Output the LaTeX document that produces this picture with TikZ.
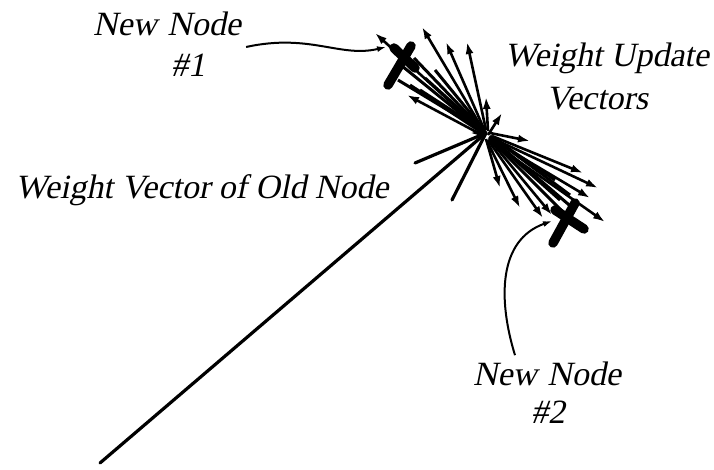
\documentclass[tikz,border=0pt]{standalone}
\usepackage{fontspec}
\newfontfamily\lblfont{Liberation Serif}[FakeSlant=0.2]
\usetikzlibrary{arrows.meta}
\begin{document}
\begin{tikzpicture}[x=1pt,y=-1pt,
  lbl/.style={font=\lblfont\fontsize{34}{38}\selectfont, anchor=base, inner sep=0pt},
  vec/.style={line width=2.6pt, -{Latex[length=12pt,width=8pt]}},
  shaft/.style={line width=3pt},
  stem/.style={line width=3.2pt, line cap=round},
  crossbar/.style={line width=9.5pt, line cap=round},
  note/.style={line width=2pt, -{Latex[length=9pt,width=6pt]}}]
\useasboundingbox (0,0) rectangle (714,470);
% texts
\node[lbl] (n1a) at (167,36) {New\hspace{10pt}Node};
\node[lbl] (n1b) at (188,77) {\#1};
\node[lbl] (wua) at (607,67) {Weight Update};
\node[lbl] (wub) at (597,110) {Vectors};
\node[lbl] (old) at (202,199) {Weight Vector of Old Node};
\node[lbl] (n2a) at (547,385) {New\hspace{10pt}Node};
\node[lbl] (n2b) at (548,423) {\#2};
% centre and old weight vector
\coordinate (C) at (486,133);
\coordinate (O) at (100,463);
\draw[stem] (O) -- (C);
\coordinate (s1) at (415,163);
\coordinate (s2) at (452,200);
\draw[stem] (s1) -- (C);
\draw[stem] (s2) -- (C);
% upper-left update vectors
\foreach \sx/\sy/\tx/\ty in {-6/-4/375/33, -4/-5/422/27, -2/-4/446/42, 0/-3/467/42,
   2/-2/486/97, -4/2/407/95, -2/0/470/133}
  \draw[vec] ([shift={(\sx,\sy)}]C) -- (\tx,\ty);
\foreach \sx/\sy/\tx/\ty in {-4/-2/402/66, -2/-1/398/80, -3/-3/414/58, 0/0/425/78,
   -1/-2/435/70, -2/1/410/85, -1/-1/420/90}
  \draw[shaft] ([shift={(\sx,\sy)}]C) -- (\tx,\ty);
% lower-right update vectors
\foreach \sx/\sy/\tx/\ty in {4/0/530/141, 6/3/583/173, 6/5/598/188, 5/6/590/198, 4/8/605/222,
   3/6/552/215, 2/7/543/218, 1/8/520/208, 0/6/500/188, 2/2/502/113}
  \draw[vec] ([shift={(\sx,\sy)}]C) -- (\tx,\ty);
\foreach \sx/\sy/\tx/\ty in {4/6/566/215, 5/5/575/210, 3/4/560/200, 6/4/570/195, 4/3/555/180}
  \draw[shaft] ([shift={(\sx,\sy)}]C) -- (\tx,\ty);
% new nodes (crosses)
\coordinate (X1) at (402,64);
\draw[crossbar] (388,85) -- (411,46);
\draw[crossbar] (394,48) -- (415,68);
\coordinate (X2) at (566,222);
\draw[crossbar] (553,243) -- (575,203);
\draw[crossbar] (555,210) -- (584,229);
% annotation curves
\coordinate (t1) at (386,47);
\coordinate (t2) at (552,221);
\draw[note] ([shift={(5,11)}]n1a.base east) .. controls (310,33) and (340,58) .. (t1);
\draw[note] ([shift={(-32,-6)}]n2a.north) .. controls (498,300) and (498,240) .. (t2);
\end{tikzpicture}
\end{document}
